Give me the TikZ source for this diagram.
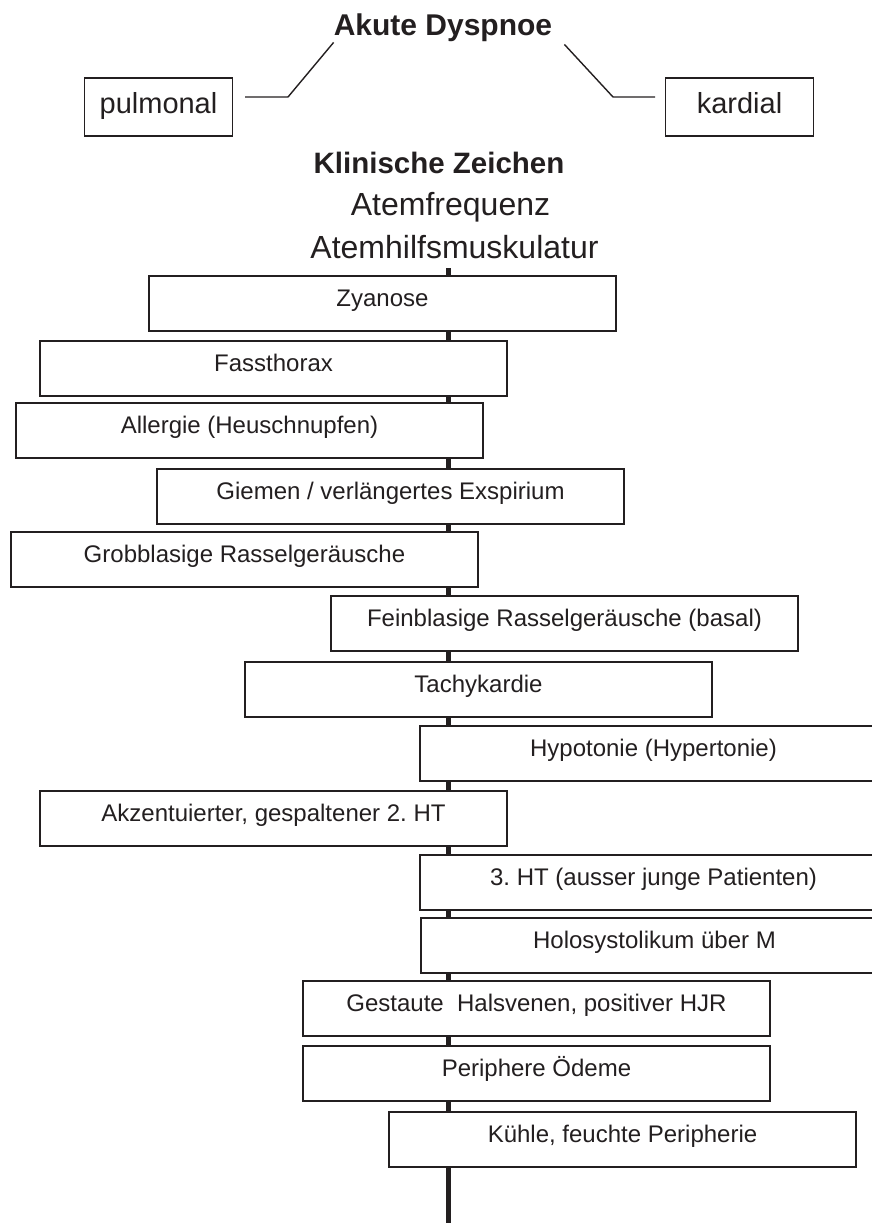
\documentclass[tikz,border=0pt]{standalone}
\usepackage{fontspec}
\setmainfont{Liberation Sans}
\usepackage{tikz}
\frenchspacing

\definecolor{ink}{HTML}{231F20}

\tikzset{
  zeichen/.style={draw=ink, fill=white, line width=1.3pt, minimum width=467pt,
    minimum height=55pt, inner sep=0pt, text height=17pt, text depth=12pt,
    font=\fontsize{24}{28}\selectfont},
  seite/.style={draw=ink, fill=white, line width=1.3pt, minimum width=148pt,
    minimum height=58pt, inner sep=0pt, text height=20pt, text depth=8pt,
    font=\fontsize{29}{34}\selectfont},
  titel/.style={anchor=base, inner sep=0pt, font=\fontsize{30}{36}\selectfont\bfseries},
  zeile/.style={anchor=base, inner sep=0pt, font=\fontsize{32}{38}\selectfont}
}

\begin{document}
\begin{tikzpicture}[x=1pt, y=-1pt, color=ink, text=ink]
\useasboundingbox (0,0) rectangle (872,1223);
\clip (0,0) rectangle (872,1223);

% Kopf
\node[titel] (dyspnoe) at (443,36) {Akute Dyspnoe};
\node[seite] (pulmonal) at (158.5,107) {pulmonal};
\node[seite] (kardial) at (739.5,107) {kardial};
\coordinate (lknick) at (288,97);
\coordinate (lende) at (245,97);
\coordinate (rknick) at (613,97);
\coordinate (rende) at (655,97);
\draw[line width=1.4pt] (dyspnoe.south west) -- (lknick) -- (lende);
\draw[line width=1.4pt] ([xshift=12pt,yshift=-2pt]dyspnoe.south east) -- (rknick) -- (rende);

\node[titel, font=\fontsize{29.5}{35}\selectfont\bfseries] (klinik) at (439,173) {Klinische Zeichen};
\node[zeile] (atemfreq) at (450.5,215) {Atemfrequenz};
\node[zeile] (atemhilf) at (454.5,258) {Atemhilfsmuskulatur};

% Mittellinie
\coordinate (spinetop) at (448.5,268);
\coordinate (spinebot) at (448.5,1223);
\draw[line width=4.7pt] (spinetop) -- (spinebot);

% Zeichen
\node[zeichen] (zyanose) at (382.5,303.5) {Zyanose};
\node[zeichen] (fassthorax) at (273.5,368.5) {Fassthorax};
\node[zeichen] (allergie) at (249.5,430.5) {Allergie (Heuschnupfen)};
\node[zeichen] (giemen) at (390.5,496.5) {Giemen / verlängertes Exspirium};
\node[zeichen] (grobblasig) at (244.5,559.5) {Grobblasige Rasselgeräusche};
\node[zeichen] (feinblasig) at (564.5,623.5) {Feinblasige Rasselgeräusche (basal)};
\node[zeichen] (tachy) at (478.5,689.5) {Tachykardie};
\node[zeichen] (hypotonie) at (653.5,753.5) {Hypotonie (Hypertonie)};
\node[zeichen] (akzent) at (273.5,818.5) {Akzentuierter, gespaltener 2. HT};
\node[zeichen] (dritterht) at (653.5,882.5) {3. HT (ausser junge Patienten)};
\node[zeichen] (holosyst) at (654.5,945.5) {Holosystolikum über M};
\node[zeichen] (halsvenen) at (536.5,1008.5) {Gestaute\ \ Halsvenen, positiver HJR};
\node[zeichen] (oedeme) at (536.5,1073.5) {Periphere Ödeme};
\node[zeichen] (peripherie) at (622.5,1139.5) {Kühle, feuchte Peripherie};
\end{tikzpicture}
\end{document}
